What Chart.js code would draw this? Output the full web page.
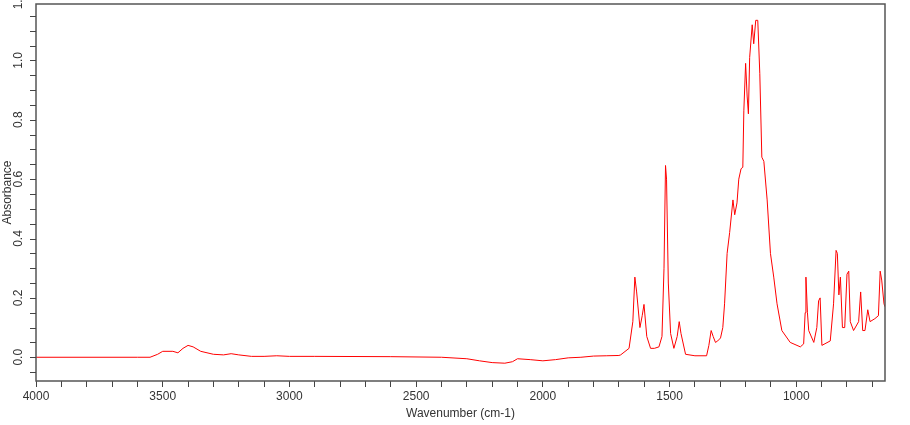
<!DOCTYPE html>
<html><head><meta charset="utf-8">
<script src="https://cdn.jsdelivr.net/npm/chart.js@4/dist/chart.umd.min.js"></script>
<style>html,body{margin:0;background:#fff}#w{width:910px;height:425px}</style>
</head><body><div id="w"><canvas id="c"></canvas></div>
<script>
const wavenumbers = [4000,3600,3550,3520,3500,3460,3440,3420,3400,3380,3350,3300,3260,3230,3200,3150,3100,3050,3000,2900,2600,2400,2300,2250,2200,2150,2120,2100,2050,2000,1950,1900,1850,1800,1750,1700,1693,1660,1645,1637,1630,1617,1608,1601,1590,1575,1560,1542,1530,1522,1516,1512,1505,1496,1483,1470,1462,1455,1437,1400,1354,1345,1336,1328,1319,1310,1299,1290,1283,1273,1263,1250,1243,1234,1227,1218,1211,1207,1200,1194,1189,1184,1174,1168,1160,1152,1144,1136,1128,1115,1102,1089,1076,1057,1024,984,971,965,962,956,951,931,919,912,906,899,866,853,843,838,832,826,818,809,800,793,787,774,754,746,738,729,718,709,690,676,669,663,654,650];
const absorbance = [0,0,0,0.01,0.02,0.02,0.015,0.03,0.04,0.035,0.02,0.01,0.008,0.012,0.008,0.003,0.003,0.005,0.003,0.003,0.002,0.0,-0.005,-0.012,-0.018,-0.02,-0.015,-0.005,-0.008,-0.012,-0.008,-0.002,0.0,0.004,0.005,0.006,0.008,0.03,0.12,0.27,0.22,0.10,0.14,0.178,0.07,0.03,0.03,0.035,0.07,0.30,0.646,0.60,0.25,0.08,0.03,0.07,0.12,0.08,0.01,0.005,0.005,0.04,0.09,0.07,0.05,0.055,0.065,0.10,0.18,0.35,0.42,0.53,0.48,0.52,0.60,0.635,0.64,0.83,0.99,0.88,0.82,1.01,1.12,1.056,1.135,1.135,0.955,0.674,0.66,0.53,0.35,0.27,0.18,0.09,0.05,0.035,0.045,0.15,0.27,0.15,0.09,0.05,0.10,0.19,0.20,0.04,0.055,0.18,0.36,0.35,0.21,0.27,0.10,0.10,0.28,0.29,0.12,0.09,0.12,0.22,0.09,0.09,0.16,0.12,0.13,0.14,0.29,0.26,0.18,0.17];
const xLabelStep = 500;
const yLabelStep = 0.2;
const pts = wavenumbers.map((w,i)=>({x:w,y:absorbance[i]}));
const frame = {id:'frame',afterDraw(ch){const a=ch.chartArea,c=ch.ctx;c.save();c.strokeStyle='#555';c.lineWidth=1.5;c.strokeRect(a.left,a.top,a.right-a.left,a.bottom-a.top);
 const y=ch.scales.y;c.strokeStyle='#444';c.lineWidth=1;c.beginPath();
 for(let i=-1;i<=23;i++){const p=Math.round(y.getPixelForValue(i*0.05))+0.5;if(p<a.top)continue;c.moveTo(a.left-6,p);c.lineTo(a.left,p);}c.stroke();
 c.fillStyle='#333';c.font='12px "Liberation Sans", Arial';c.textAlign='center';c.textBaseline='middle';
 for(let v=0;v<=1.21;v+=yLabelStep){const p=y.getPixelForValue(v);c.save();c.translate(a.left-17,p);c.rotate(-Math.PI/2);c.fillText(v.toFixed(1),0,0);c.restore();}
 c.restore();}};
new Chart(document.getElementById('c'),{type:'line',data:{datasets:[{data:pts,borderColor:'#ff0000',borderWidth:1,pointRadius:0,tension:0,fill:false}]},
options:{responsive:true,maintainAspectRatio:false,animation:false,layout:{padding:{top:4,right:25,left:0,bottom:0}},
plugins:{legend:{display:false},tooltip:{enabled:false}},
scales:{x:{type:'linear',reverse:true,min:650,max:4000,afterFit(s){s.height=44},
 afterBuildTicks(s){const t=[];for(let v=700;v<=4000;v+=100)t.push({value:v});s.ticks=t;},
 ticks:{autoSkip:false,maxRotation:0,color:'#333',font:{family:'Liberation Sans',size:12},padding:2,callback:v=>v%xLabelStep===0?String(v):''},
 grid:{drawOnChartArea:false,tickLength:6,color:'#444'},border:{display:false},
 title:{display:true,text:'Wavenumber (cm-1)',color:'#333',font:{family:'Liberation Sans',size:12},padding:{top:0}}},
y:{min:-0.08,max:1.19,afterFit(s){s.width=36},
 ticks:{display:false},
 grid:{display:false},border:{display:false},
 title:{display:true,text:'Absorbance',color:'#333',font:{family:'Liberation Sans',size:12},padding:0}}}},
plugins:[frame]});
</script></body></html>
